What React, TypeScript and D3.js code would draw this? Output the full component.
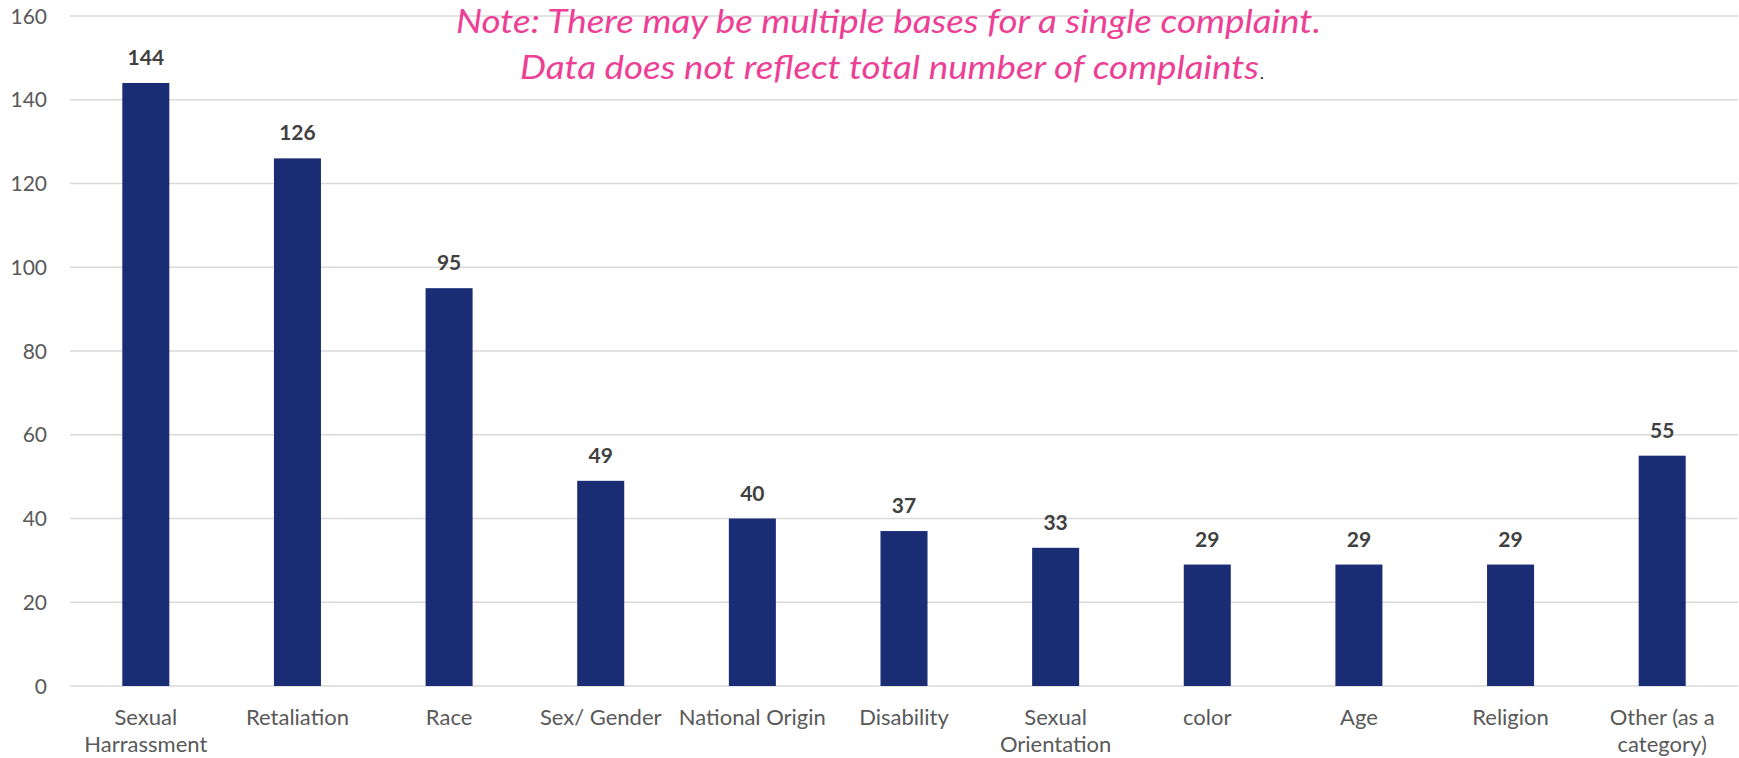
import React from "react";
import * as d3 from "d3";

const categories: string[][] = [
  ["Sexual", "Harrassment"],
  ["Retaliation"],
  ["Race"],
  ["Sex/ Gender"],
  ["National Origin"],
  ["Disability"],
  ["Sexual", "Orientation"],
  ["color"],
  ["Age"],
  ["Religion"],
  ["Other (as a", "category)"],
];
const values: number[] = [144, 126, 95, 49, 40, 37, 33, 29, 29, 29, 55];
const yTicks: number[] = [0, 20, 40, 60, 80, 100, 120, 140, 160];
const noteLine1 = "Note: There may be multiple bases for a single complaint.";
const noteLine2 = "Data does not reflect total number of complaints";

const W = 1739;
const H = 758;
const FONT = "Lato, 'Open Sans', sans-serif";

export default function App() {
  const keys = categories.map((c) => c.join(" "));
  const x = d3.scaleBand<string>().domain(keys).range([70, 1738]).paddingInner(0.69).paddingOuter(0.345);
  const y = d3.scaleLinear().domain([0, 160]).range([686, 16]);

  return (
    <div style={{ position: "absolute", left: 0, top: 0 }}>
      <svg width={W} height={H} style={{ display: "block", background: "#fff" }}>
        {yTicks.map((t) => (
          <g key={t}>
            <line x1={70} x2={1738} y1={y(t)} y2={y(t)} stroke="#d9d9d9" strokeWidth={1.5} />
            <text x={47} y={y(t)} dy="0.36em" textAnchor="end" fontFamily={FONT} fontSize={21} fill="#595959">
              {t}
            </text>
          </g>
        ))}
        {values.map((v, i) => {
          const k = keys[i];
          const bx = x(k)!;
          const bw = x.bandwidth();
          return (
            <g key={k}>
              <rect x={bx} y={y(v)} width={bw} height={y(0) - y(v)} fill="#192c74" />
              <text x={bx + bw / 2} y={y(v) - 18} textAnchor="middle" fontFamily={FONT} fontWeight="bold" fontSize={21} fill="#404040">
                {v}
              </text>
              {categories[i].map((line, j) => (
                <text key={j} x={bx + bw / 2} y={725 + j * 27} textAnchor="middle" fontFamily={FONT} fontSize={22} fill="#595959">
                  {line}
                </text>
              ))}
            </g>
          );
        })}
        <text x={456} y={33} textLength={865} lengthAdjust="spacingAndGlyphs" fontFamily={FONT} fontStyle="italic" fontSize={33} fill="#ec3f95">
          {noteLine1}
        </text>
        <text x={520} y={79} textLength={739} lengthAdjust="spacingAndGlyphs" fontFamily={FONT} fontStyle="italic" fontSize={33} fill="#ec3f95">
          {noteLine2}
        </text>
        <text x={1260} y={79} fontFamily={FONT} fontSize={16} fill="#000">.</text>
      </svg>
    </div>
  );
}
